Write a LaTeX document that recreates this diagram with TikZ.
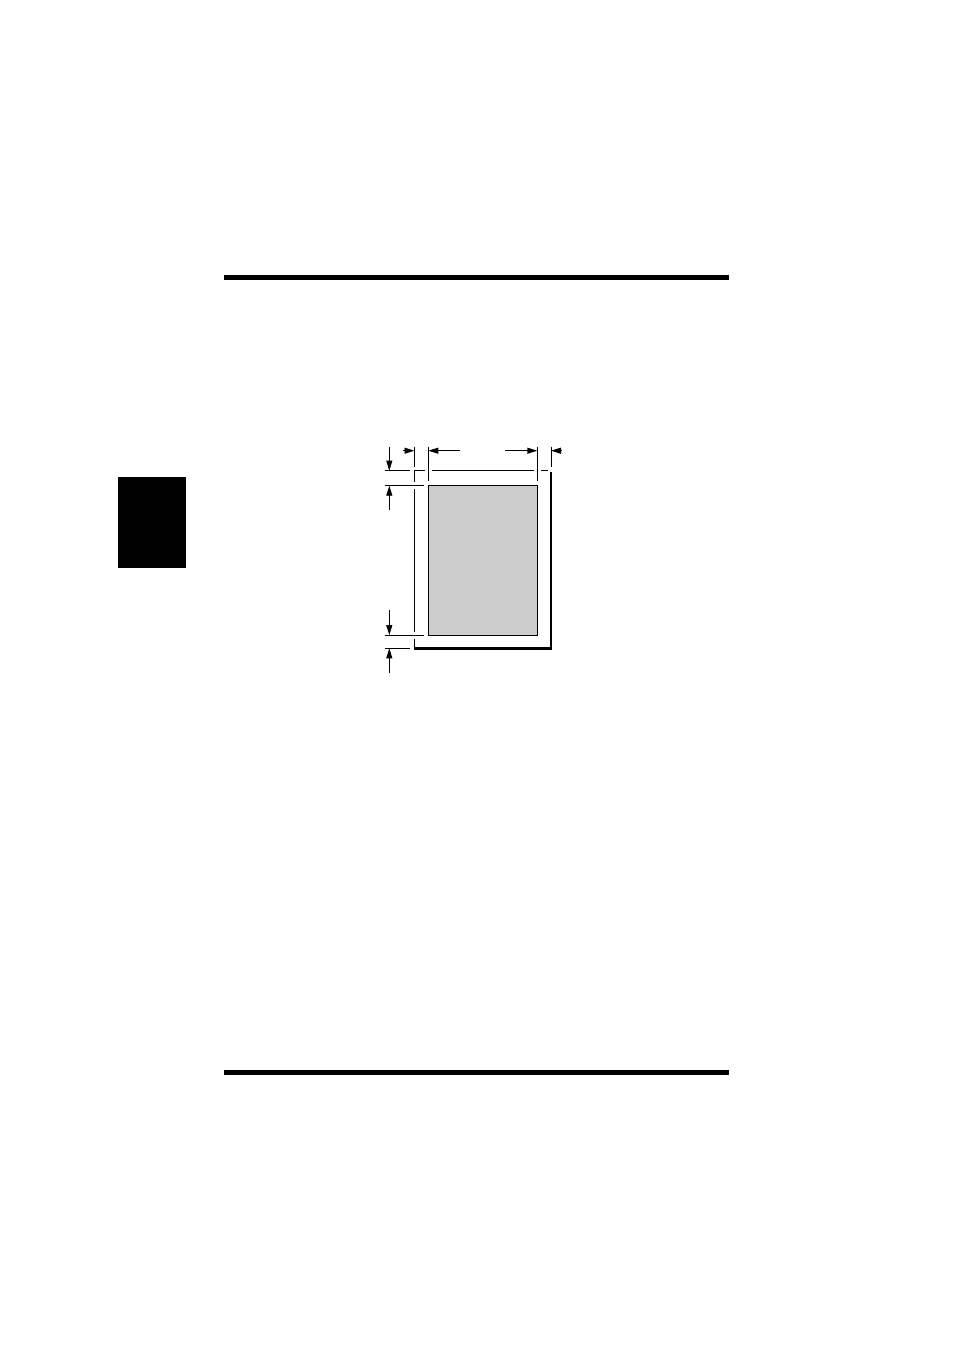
\documentclass[tikz,border=0pt]{standalone}
\usetikzlibrary{arrows.meta}
\begin{document}
\begin{tikzpicture}[x=1pt,y=-1pt,
  thin/.style={line width=0.9pt},
  edge/.style={line width=2.6pt},
  ext/.style={line width=0.9pt, preaction={draw=white,line width=7pt}},
  dim/.style={line width=0.9pt,-{Triangle[length=10pt,width=6pt]}}]
\useasboundingbox (0,0) rectangle (954,1351);
% page bars and tab
\fill (224,275) rectangle (729,280);
\fill (224,1070) rectangle (729,1075);
\fill (118,477) rectangle (186,568);
% paper
\coordinate (pTL) at (414.5,470.7);
\draw[thin] (414.5,648.3) -- (pTL) -- (548,470.7);
\draw[edge] (551,472) -- (551,648.3) -- (413.5,648.3);
% printable area
\draw[thin, fill=black!20] (428.3,485.7) rectangle (537.3,635);
% extension lines
\draw[ext] (414.5,446.7) -- (414.5,466.5);
\draw[ext] (428.3,446.7) -- (428.3,481);
\draw[ext] (537.3,446.7) -- (537.3,480.5);
\draw[ext] (551,446.7) -- (551,466.5);
\draw[ext] (384.5,470.7) -- (410,470.7);
\draw[ext] (384.5,485.7) -- (423.5,485.7);
\draw[ext] (384.5,635) -- (423.5,635);
\draw[ext] (384.5,648.3) -- (410,648.3);
% dimension arrows
\draw[dim] (403,450.7) -- (414.5,450.7);
\draw[dim] (460,450.7) -- (428.3,450.7);
\draw[dim] (505,450.7) -- (537.3,450.7);
\draw[dim] (562,450.7) -- (551,450.7);
\draw[dim] (389.3,446.7) -- (389.3,470.7);
\draw[dim] (389.3,510) -- (389.3,485.7);
\draw[dim] (389.3,610) -- (389.3,635);
\draw[dim] (389.3,673) -- (389.3,648.3);
\end{tikzpicture}
\end{document}
